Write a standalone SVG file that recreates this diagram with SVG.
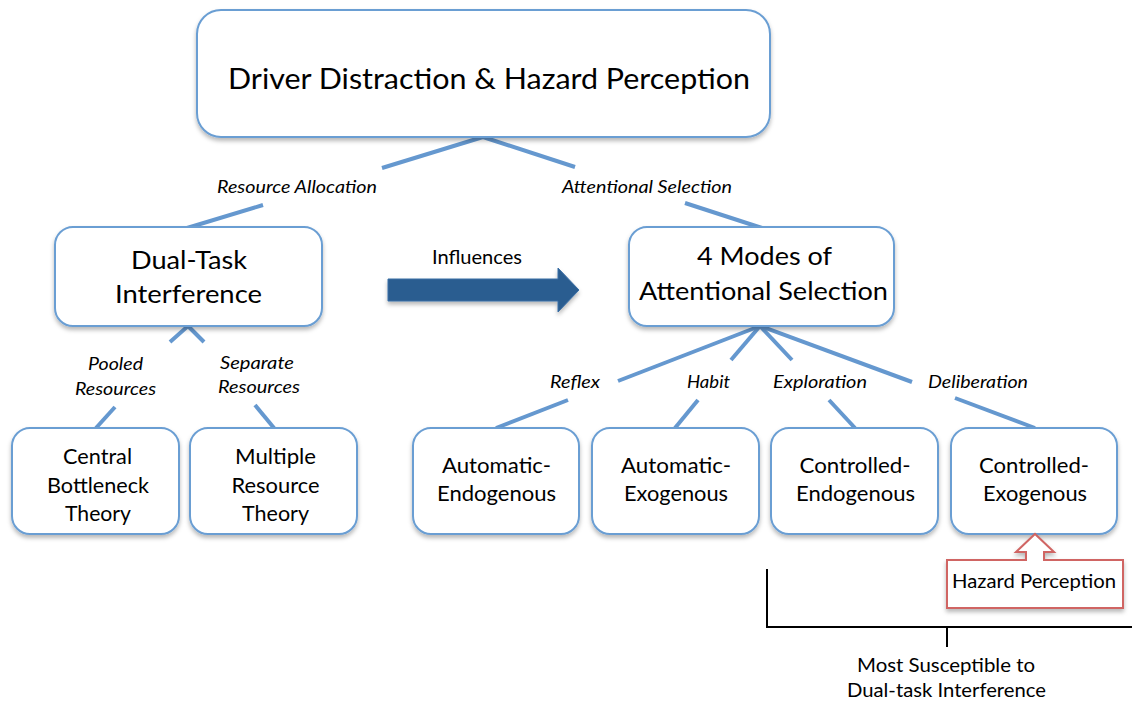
<svg xmlns="http://www.w3.org/2000/svg" width="1132" height="703" viewBox="0 0 1132 703">
  <defs>
    <filter id="shadow" x="-10%" y="-10%" width="120%" height="130%">
      <feDropShadow dx="0" dy="3" stdDeviation="2" flood-color="#000" flood-opacity="0.28"/>
    </filter>
    <style>
      .box { fill: #ffffff; stroke: #6a9ed3; stroke-width: 2; filter: url(#shadow); }
      .link { stroke: #6598cf; stroke-width: 4; stroke-linecap: butt; fill: none; }
      .t { font-family: Lato, "Liberation Sans", sans-serif; fill: #000; text-anchor: middle; }
      .big { font-size: 25.5px; }
      .mid { font-size: 21px; }
      .small { font-size: 18.5px; }
      .lbl { font-size: 17.5px; font-style: italic; }
      .callout { fill: #ffffff; stroke: #d06563; stroke-width: 2; filter: url(#shadow); }
      .bracket { stroke: #000; stroke-width: 2; fill: none; }
    </style>
  </defs>

  <rect width="1132" height="703" fill="#ffffff"/>

  <!-- connectors -->
  <g id="connectors">
    <!-- root to level 1 -->
    <line class="link" x1="483" y1="137" x2="382" y2="168"/>
    <line class="link" x1="263" y1="205" x2="187" y2="228"/>
    <line class="link" x1="483" y1="137" x2="575" y2="167"/>
    <line class="link" x1="685" y1="203" x2="762" y2="228"/>
    <!-- dual-task to theories -->
    <line class="link" x1="188" y1="326" x2="170" y2="342"/>
    <line class="link" x1="115" y1="407" x2="96" y2="428"/>
    <line class="link" x1="188" y1="326" x2="204" y2="342"/>
    <line class="link" x1="255" y1="405" x2="274" y2="428"/>
    <!-- modes to the four selection types -->
    <line class="link" x1="760" y1="326" x2="618" y2="381"/>
    <line class="link" x1="568" y1="400" x2="496" y2="428"/>
    <line class="link" x1="760" y1="326" x2="731" y2="360"/>
    <line class="link" x1="698" y1="400" x2="675" y2="428"/>
    <line class="link" x1="760" y1="326" x2="792" y2="360"/>
    <line class="link" x1="829" y1="400" x2="855" y2="428"/>
    <line class="link" x1="760" y1="326" x2="912" y2="382"/>
    <line class="link" x1="955" y1="398" x2="1035" y2="428"/>

    <!-- connector labels -->
    <text class="t lbl" x="297" y="193" textLength="160" lengthAdjust="spacingAndGlyphs">Resource Allocation</text>
    <text class="t lbl" x="647" y="193" textLength="170" lengthAdjust="spacingAndGlyphs">Attentional Selection</text>
    <text class="t lbl" x="115.5" y="370" textLength="55" lengthAdjust="spacingAndGlyphs">Pooled</text>
    <text class="t lbl" x="115.5" y="395" textLength="81" lengthAdjust="spacingAndGlyphs">Resources</text>
    <text class="t lbl" x="257" y="369" textLength="74" lengthAdjust="spacingAndGlyphs">Separate</text>
    <text class="t lbl" x="259" y="393" textLength="82" lengthAdjust="spacingAndGlyphs">Resources</text>
    <text class="t lbl" x="575" y="388" textLength="50" lengthAdjust="spacingAndGlyphs">Reflex</text>
    <text class="t lbl" x="708.5" y="388" textLength="43" lengthAdjust="spacingAndGlyphs">Habit</text>
    <text class="t lbl" x="820" y="388" textLength="94" lengthAdjust="spacingAndGlyphs">Exploration</text>
    <text class="t lbl" x="978" y="388" textLength="100" lengthAdjust="spacingAndGlyphs">Deliberation</text>
  </g>

  <!-- root -->
  <g id="root">
    <rect class="box" x="197" y="10" width="573" height="127" rx="24"/>
    <text class="t" x="489" y="89" font-size="28" textLength="522" lengthAdjust="spacingAndGlyphs">Driver Distraction &amp; Hazard Perception</text>
  </g>

  <!-- level 1 -->
  <g id="dual-task">
    <rect class="box" x="55" y="227" width="267" height="99" rx="18"/>
    <text class="t big" x="189" y="269" textLength="116" lengthAdjust="spacingAndGlyphs">Dual-Task</text>
    <text class="t big" x="188.5" y="303" textLength="147" lengthAdjust="spacingAndGlyphs">Interference</text>
  </g>

  <g id="modes">
    <rect class="box" x="629" y="227" width="265" height="99" rx="18"/>
    <text class="t big" x="764.5" y="265" textLength="135" lengthAdjust="spacingAndGlyphs">4 Modes of</text>
    <text class="t big" x="763.5" y="300" textLength="249" lengthAdjust="spacingAndGlyphs">Attentional Selection</text>
  </g>

  <!-- influence arrow -->
  <g id="influences">
    <path d="M388 279 L558 279 L558 268 L579 290 L558 312 L558 301 L388 301 Z" fill="#2b5d90" stroke="#3a6ea5" stroke-width="1" filter="url(#shadow)"/>
    <text class="t small" x="477" y="264" textLength="90" lengthAdjust="spacingAndGlyphs">Influences</text>
  </g>

  <!-- theories -->
  <g id="central-bottleneck">
    <rect class="box" x="12" y="428" width="167" height="106" rx="18"/>
    <text class="t mid" x="97.5" y="464" textLength="69" lengthAdjust="spacingAndGlyphs">Central</text>
    <text class="t mid" x="98" y="493" textLength="102" lengthAdjust="spacingAndGlyphs">Bottleneck</text>
    <text class="t mid" x="98" y="521" textLength="66" lengthAdjust="spacingAndGlyphs">Theory</text>
  </g>

  <g id="multiple-resource">
    <rect class="box" x="190" y="428" width="167" height="106" rx="18"/>
    <text class="t mid" x="275.5" y="464" textLength="81" lengthAdjust="spacingAndGlyphs">Multiple</text>
    <text class="t mid" x="275.5" y="493" textLength="88" lengthAdjust="spacingAndGlyphs">Resource</text>
    <text class="t mid" x="275.5" y="521" textLength="67" lengthAdjust="spacingAndGlyphs">Theory</text>
  </g>

  <!-- selection types -->
  <g id="automatic-endogenous">
    <rect class="box" x="413" y="428" width="166" height="106" rx="18"/>
    <text class="t mid" x="496.5" y="473" textLength="109" lengthAdjust="spacingAndGlyphs">Automatic-</text>
    <text class="t mid" x="496.5" y="501" textLength="119" lengthAdjust="spacingAndGlyphs">Endogenous</text>
  </g>

  <g id="automatic-exogenous">
    <rect class="box" x="592" y="428" width="167" height="106" rx="18"/>
    <text class="t mid" x="676" y="473" textLength="110" lengthAdjust="spacingAndGlyphs">Automatic-</text>
    <text class="t mid" x="676" y="501" textLength="104" lengthAdjust="spacingAndGlyphs">Exogenous</text>
  </g>

  <g id="controlled-endogenous">
    <rect class="box" x="771" y="428" width="167" height="106" rx="18"/>
    <text class="t mid" x="855" y="473" textLength="111" lengthAdjust="spacingAndGlyphs">Controlled-</text>
    <text class="t mid" x="855.5" y="501" textLength="119" lengthAdjust="spacingAndGlyphs">Endogenous</text>
  </g>

  <g id="controlled-exogenous">
    <rect class="box" x="951" y="428" width="166" height="106" rx="18"/>
    <text class="t mid" x="1034" y="473" textLength="110" lengthAdjust="spacingAndGlyphs">Controlled-</text>
    <text class="t mid" x="1035" y="501" textLength="104" lengthAdjust="spacingAndGlyphs">Exogenous</text>
  </g>

  <!-- hazard perception callout pointing up at controlled-exogenous -->
  <g id="hazard-perception">
    <path class="callout" d="M947 560 L1026 560 L1026 552 L1016 552 L1035 534 L1054 552 L1044 552 L1044 560 L1123 560 L1123 608 L947 608 Z"/>
    <text class="t small" x="1034" y="588" textLength="164" lengthAdjust="spacingAndGlyphs">Hazard Perception</text>
  </g>

  <!-- bracket marking the modes most susceptible to dual-task interference -->
  <g id="susceptible">
    <path class="bracket" d="M767 569 L767 627 L1132 627 M947 627 L947 647"/>
    <text class="t small" x="946" y="672" textLength="178" lengthAdjust="spacingAndGlyphs">Most Susceptible to</text>
    <text class="t small" x="946.5" y="697" textLength="199" lengthAdjust="spacingAndGlyphs">Dual-task Interference</text>
  </g>
</svg>
